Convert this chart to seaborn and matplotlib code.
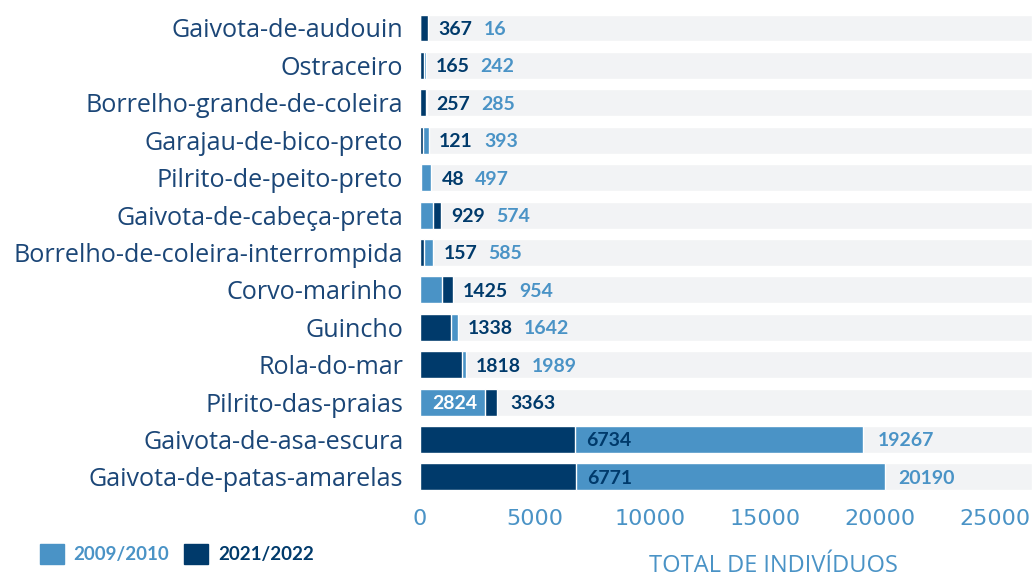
import pandas as pd
import seaborn as sns
import matplotlib.pyplot as plt
from matplotlib.patches import Patch

# dados (de cima para baixo)
species = [
    "Gaivota-de-audouin", "Ostraceiro", "Borrelho-grande-de-coleira",
    "Garajau-de-bico-preto", "Pilrito-de-peito-preto", "Gaivota-de-cabeça-preta",
    "Borrelho-de-coleira-interrompida", "Corvo-marinho", "Guincho",
    "Rola-do-mar", "Pilrito-das-praias", "Gaivota-de-asa-escura",
    "Gaivota-de-patas-amarelas",
]
v2009 = [16, 242, 285, 393, 497, 574, 585, 954, 1642, 1989, 2824, 19267, 20190]
v2021 = [367, 165, 257, 121, 48, 929, 157, 1425, 1338, 1818, 3363, 6734, 6771]
seasons = ["2009/2010", "2021/2022"]
xticks = [0, 5000, 10000, 15000, 20000, 25000]

LIGHT = "#4a93c6"
DARK = "#003a6b"
TRACK = "#f2f3f5"
TEXT = "#1b4677"
palette = {"2009/2010": LIGHT, "2021/2022": DARK}

xmax = 26600

# camada de trás (maior valor) e da frente (menor valor)
back, front = [], []
for s, a, b in zip(species, v2009, v2021):
    if a >= b:
        back.append((s, a, seasons[0]))
        front.append((s, b, seasons[1]))
    else:
        back.append((s, b, seasons[1]))
        front.append((s, a, seasons[0]))
back = pd.DataFrame(back, columns=["especie", "valor", "epoca"])
front = pd.DataFrame(front, columns=["especie", "valor", "epoca"])
track = pd.DataFrame({"especie": species, "valor": [xmax] * len(species)})

sns.set_theme(style="white")
plt.rcParams["font.family"] = ["Lato", "DejaVu Sans"]

fig = plt.figure(figsize=(10.32, 5.81), dpi=100)
ax = fig.add_axes([0.407, 0.147, 0.593, 0.837])

sns.barplot(data=track, x="valor", y="especie", order=species, color=TRACK,
            width=0.72, ax=ax, saturation=1)
sns.barplot(data=back, x="valor", y="especie", hue="epoca", order=species,
            palette=palette, dodge=False, width=0.72, ax=ax, saturation=1,
            legend=False)
sns.barplot(data=front, x="valor", y="especie", hue="epoca", order=species,
            palette=palette, dodge=False, width=0.72, ax=ax, saturation=1,
            legend=False)

px = xmax / 612.0  # valor por pixel
for i, (a, b) in enumerate(zip(v2009, v2021)):
    y = i + 0.04
    kw = dict(va="center", fontsize=14, fontweight="bold")
    if a > 2500 and a < b:
        # etiqueta clara dentro da barra clara
        ax.text(12 * px, y, f"{a}", color="white", ha="left", **kw)
        ax.text(b + 13 * px, y, f"{b}", color=DARK, ha="left", **kw)
    elif a > 2500 and b < a:
        ax.text(b + 11 * px, y, f"{b}", color=DARK, ha="left", **kw)
        ax.text(a + 14 * px, y, f"{a}", color=LIGHT, ha="left", **kw)
    else:
        t = ax.text(max(a, b) + 10 * px, y, f"{b}", color=DARK, ha="left", **kw)
        ax.annotate(f"{a}", xy=(1, 0.5), xycoords=t, xytext=(8, 0),
                    textcoords="offset points", color=LIGHT, ha="left",
                    va="center", fontsize=14, fontweight="bold")

ax.set_xlim(0, xmax)
ax.set_ylim(len(species) - 0.5, -0.5)
ax.set_xticks(xticks)
ax.set_xticklabels([str(x) for x in xticks], family=["DejaVu Sans"])
ax.tick_params(axis="x", colors=LIGHT, labelsize=16, length=0, pad=10)
ax.tick_params(axis="y", colors=TEXT, labelsize=18.1, length=0, pad=12)
for lab in ax.get_yticklabels():
    lab.set_color(TEXT)
    lab.set_family(["Open Sans", "DejaVu Sans"])
ax.set_xlabel("")
ax.set_ylabel("")
sns.despine(ax=ax, left=True, bottom=True)

fig.text(0.749, 0.006, "TOTAL DE INDIVÍDUOS", color=LIGHT, fontsize=17,
         ha="center", va="bottom", family=["Open Sans", "DejaVu Sans"])

handles = [Patch(color=LIGHT, label=seasons[0]), Patch(color=DARK, label=seasons[1])]
leg = fig.legend(handles=handles, loc="lower left", bbox_to_anchor=(0.022, 0.0),
                 ncol=2, frameon=False, handlelength=1.3, handleheight=1.3,
                 columnspacing=0.8, handletextpad=0.5,
                 prop={"size": 13.5, "weight": "bold"})
for txt, c in zip(leg.get_texts(), [LIGHT, DARK]):
    txt.set_color(c)

fig.savefig("out.png", dpi=100)
